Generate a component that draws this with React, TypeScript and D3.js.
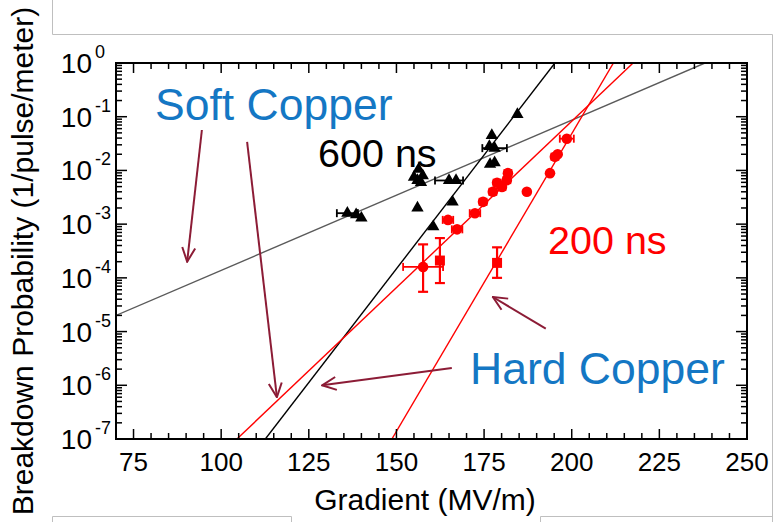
import React from 'react';
import * as d3 from 'd3';

// axis ticks
const xMajorTicks = [75, 100, 125, 150, 175, 200, 225, 250];
const yDecades = [0, -1, -2, -3, -4, -5, -6, -7];

// 600 ns soft copper: [gradient, probability, gradient error]
const blackPoints: [number, number, number][] = [
  [136, 1.6e-3, 3], [138.5, 1.5e-3, 0], [140, 1.3e-3, 0],
  [155, 7.5e-3, 0], [156, 6.5e-3, 0], [157.5, 8e-3, 0], [156.3, 1.05e-2, 0], [157, 6e-3, 0],
  [165, 6.5e-3, 4], [167, 6.5e-3, 0],
  [156, 2e-3, 0], [166, 2.6e-3, 0], [160.5, 9e-4, 0],
  [177.2, 4.5e-2, 0], [178, 2.6e-2, 3.5], [176.5, 2.8e-2, 0], [176.7, 1.3e-2, 0], [178, 1.4e-2, 0],
  [184.5, 0.11, 0],
];

// 200 ns soft copper: [gradient, probability, gradient error, prob low, prob high]
const redSoftPoints: [number, number, number, number, number][] = [
  [157.6, 1.6e-4, 5.7, 5.5e-5, 4.2e-4],
  [164.7, 1.2e-3, 1.5, 0, 0], [167.3, 8e-4, 1.5, 0, 0], [172.4, 1.6e-3, 1.5, 0, 0],
  [174.7, 2.6e-3, 1, 0, 0], [177.5, 4e-3, 1, 0, 0], [178.7, 5.9e-3, 1, 0, 0],
  [180.1, 4.9e-3, 1, 0, 0], [181.8, 8.9e-3, 1, 0, 0], [181.5, 6.6e-3, 1, 0, 0],
];
const redSoftSquares: [number, number, number, number][] = [
  [162.4, 2.1e-4, 8e-5, 5.5e-4],
];

// 200 ns hard copper
const redHardPoints: [number, number, number][] = [
  [187.2, 4e-3, 0], [193.8, 8.9e-3, 0], [195.2, 1.8e-2, 1], [196, 2e-2, 0], [198.6, 3.9e-2, 2],
];
const redHardSquares: [number, number, number, number][] = [
  [178.7, 1.9e-4, 1e-4, 3.7e-4],
];

// fit lines, end points [gradient, probability]
const grayFit: [number, number][] = [[70, 2.0e-5], [238, 1]];
const blackFit: [number, number][] = [[112.6, 1e-7], [195.2, 1]];
const redSoftFit: [number, number][] = [[104.5, 1e-7], [217.5, 1]];
const redHardFit: [number, number][] = [[148.7, 1e-7], [211.9, 1]];

// annotation arrows, [tail, head] in data units
const arrows: [number, number][][] = [
  [[94.5, 0.0566], [90.3, 2e-4]],
  [[107.4, 0.034], [115.9, 6e-7]],
  [[165.8, 2.1e-6], [128.8, 1.0e-6]],
  [[192.6, 1.13e-5], [177.5, 4.4e-5]],
];

const W = 777;
const H = 522;
const L = 116, R = 747, T = 63, B = 439;
const FONT = "'Liberation Sans', Arial, sans-serif";

const App: React.FC = () => {
  const x = d3.scaleLinear().domain([70, 250]).range([L, R]);
  const y = d3.scaleLog().domain([1e-7, 1]).range([B, T]);
  const line = d3.line<[number, number]>().x(d => x(d[0])).y(d => y(d[1]));
  const tri = d3.symbol(d3.symbolTriangle, 66)()!;

  const xMinor = d3.range(70, 251, 5).filter(v => v % 25 !== 0);
  const yMinor: number[] = [];
  for (let e = -7; e < 0; e++) for (let m = 2; m <= 9; m++) yMinor.push(m * Math.pow(10, e));

  const ticks: JSX.Element[] = [];
  xMajorTicks.forEach(v => {
    ticks.push(<line key={'xb' + v} x1={x(v)} x2={x(v)} y1={B} y2={B - 10} />);
    ticks.push(<line key={'xt' + v} x1={x(v)} x2={x(v)} y1={T} y2={T + 10} />);
  });
  xMinor.forEach(v => {
    ticks.push(<line key={'xbm' + v} x1={x(v)} x2={x(v)} y1={B} y2={B - 6} />);
    ticks.push(<line key={'xtm' + v} x1={x(v)} x2={x(v)} y1={T} y2={T + 6} />);
  });
  yDecades.forEach(e => {
    const yy = y(Math.pow(10, e));
    ticks.push(<line key={'yl' + e} x1={L} x2={L + 11} y1={yy} y2={yy} />);
    ticks.push(<line key={'yr' + e} x1={R} x2={R - 11} y1={yy} y2={yy} />);
  });
  yMinor.forEach((v, i) => {
    const yy = y(v);
    ticks.push(<line key={'ylm' + i} x1={L} x2={L + 6} y1={yy} y2={yy} />);
    ticks.push(<line key={'yrm' + i} x1={R} x2={R - 6} y1={yy} y2={yy} />);
  });

  const xErr = (g: number, p: number, e: number, color: string, k: string) => e > 0 ? (
    <g key={k} stroke={color} strokeWidth={1.8}>
      <line x1={x(g - e)} x2={x(g + e)} y1={y(p)} y2={y(p)} />
      <line x1={x(g - e)} x2={x(g - e)} y1={y(p) - 4} y2={y(p) + 4} />
      <line x1={x(g + e)} x2={x(g + e)} y1={y(p) - 4} y2={y(p) + 4} />
    </g>
  ) : null;
  const yErr = (g: number, lo: number, hi: number, color: string, k: string) => lo > 0 ? (
    <g key={k} stroke={color} strokeWidth={2.2}>
      <line x1={x(g)} x2={x(g)} y1={y(lo)} y2={y(hi)} />
      <line x1={x(g) - 5} x2={x(g) + 5} y1={y(lo)} y2={y(lo)} />
      <line x1={x(g) - 5} x2={x(g) + 5} y1={y(hi)} y2={y(hi)} />
    </g>
  ) : null;

  const maroon = '#8c1c36';
  const blue = '#1477c4';

  return (
    <svg width={W} height={H} style={{ position: 'absolute', left: 0, top: 0, background: '#fff' }}>
      <defs>
        <clipPath id="plot"><rect x={L} y={T} width={R - L} height={B - T} /></clipPath>
        <marker id="head" viewBox="0 0 16 16" refX="15" refY="8" markerWidth="16" markerHeight="16"
          markerUnits="userSpaceOnUse" orient="auto">
          <path d="M1,1.5 L15,8 L1,14.5" fill="none" stroke={maroon} strokeWidth={2} />
        </marker>
      </defs>

      {/* slide frame lines */}
      <g stroke="#bfbfbf" strokeWidth={1} fill="none">
        <path d="M52.5,0 V34.5 H772.5 V522" />
        <path d="M52.5,522 V516.5 H291.5 V522" />
        <path d="M540.5,522 V516.5 H772.5" />
      </g>

      {/* fit lines */}
      <g clipPath="url(#plot)" fill="none">
        <path d={line(grayFit)!} stroke="#5a5a5a" strokeWidth={1.4} />
        <path d={line(blackFit)!} stroke="#000" strokeWidth={1.4} />
        <path d={line(redSoftFit)!} stroke="#ff0000" strokeWidth={1.4} />
        <path d={line(redHardFit)!} stroke="#ff0000" strokeWidth={1.4} />
      </g>

      {/* black 600 ns */}
      {blackPoints.map((d, i) => xErr(d[0], d[1], d[2], '#000', 'be' + i))}
      {blackPoints.map((d, i) => (
        <path key={'b' + i} d={tri} transform={`translate(${x(d[0])},${y(d[1])})`} fill="#000" />
      ))}

      {/* red 200 ns */}
      {redSoftPoints.map((d, i) => xErr(d[0], d[1], d[2], '#ff0000', 'rse' + i))}
      {redSoftPoints.map((d, i) => yErr(d[0], d[3], d[4], '#ff0000', 'rsy' + i))}
      {redSoftPoints.map((d, i) => (
        <circle key={'rs' + i} cx={x(d[0])} cy={y(d[1])} r={5.3} fill="#ff0000" />
      ))}
      {redSoftSquares.map((d, i) => yErr(d[0], d[2], d[3], '#ff0000', 'rqy' + i))}
      {redSoftSquares.map((d, i) => (
        <rect key={'rq' + i} x={x(d[0]) - 5} y={y(d[1]) - 5} width={10} height={10} fill="#ff0000" />
      ))}
      {redHardPoints.map((d, i) => xErr(d[0], d[1], d[2], '#ff0000', 'rhe' + i))}
      {redHardPoints.map((d, i) => (
        <circle key={'rh' + i} cx={x(d[0])} cy={y(d[1])} r={5.3} fill="#ff0000" />
      ))}
      {redHardSquares.map((d, i) => yErr(d[0], d[2], d[3], '#ff0000', 'rhy' + i))}
      {redHardSquares.map((d, i) => (
        <rect key={'rhq' + i} x={x(d[0]) - 5} y={y(d[1]) - 5} width={10} height={10} fill="#ff0000" />
      ))}

      {/* frame and ticks */}
      <g stroke="#000" strokeWidth={1.5}>{ticks}</g>
      <rect x={L} y={T} width={R - L} height={B - T} fill="none" stroke="#000" strokeWidth={2} />

      {/* tick labels */}
      <g fontFamily={FONT} fill="#000">
        {xMajorTicks.map(v => (
          <text key={'xl' + v} x={x(v)} y={B + 32} textAnchor="middle" fontSize={26}>{v}</text>
        ))}
        {yDecades.map(e => (
          <text key={'yl' + e} x={92} y={y(Math.pow(10, e)) + 10} textAnchor="end" fontSize={28}>10</text>
        ))}
        {yDecades.map(e => (
          <text key={'ye' + e} x={95} y={y(Math.pow(10, e)) - 5} fontSize={18}>{e === 0 ? '0' : '-' + Math.abs(e)}</text>
        ))}
      </g>

      {/* axis titles */}
      <text x={425} y={510} textAnchor="middle" fontFamily={FONT} fontSize={30}>Gradient (MV/m)</text>
      <text transform="translate(33,261) rotate(-90)" textAnchor="middle" fontFamily={FONT} fontSize={30}>
        Breakdown Probability (1/pulse/meter)
      </text>

      {/* annotations */}
      <g stroke={maroon} strokeWidth={2} fill="none">
        {arrows.map((a, i) => (
          <line key={'ar' + i} x1={x(a[0][0])} y1={y(a[0][1])} x2={x(a[1][0])} y2={y(a[1][1])} markerEnd="url(#head)" />
        ))}
      </g>
      <text x={155} y={120} fontFamily={FONT} fontSize={44.5} fill={blue}>Soft Copper</text>
      <text x={318} y={167} fontFamily={FONT} fontSize={39.5} fill="#000">600 ns</text>
      <text x={548} y={254} fontFamily={FONT} fontSize={39.5} fill="#ff0000">200 ns</text>
      <text x={470} y={384} fontFamily={FONT} fontSize={44.5} fill={blue}>Hard Copper</text>
    </svg>
  );
};

export default App;
